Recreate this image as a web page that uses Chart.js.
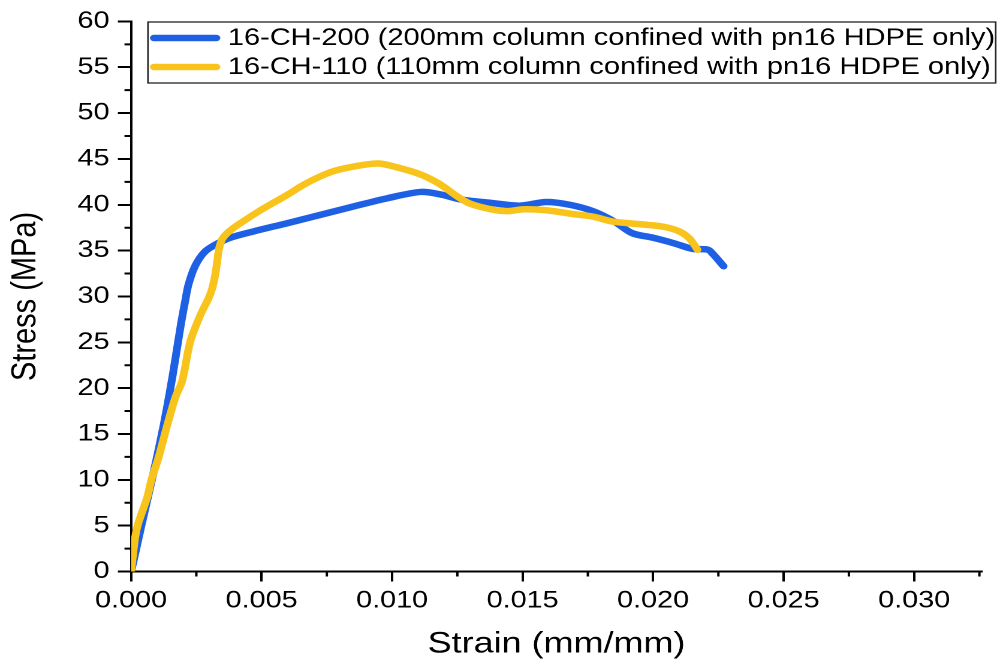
<!DOCTYPE html>
<html><head><meta charset="utf-8">
<script src="https://cdn.jsdelivr.net/npm/chart.js@4.4.1/dist/chart.umd.min.js"></script>
<style>
html,body{margin:0;padding:0;background:#fff;overflow:hidden;width:1000px;height:662px}
#wrap{position:absolute;left:0;top:0;width:834px;height:662px;transform:scaleX(1.19904);transform-origin:0 0}
canvas{display:block}
</style></head><body>
<div id="wrap"><canvas id="c" width="834" height="662"></canvas></div>
<script>
const seriesLabels = [
  '16-CH-200 (200mm column confined with pn16 HDPE only)',
  '16-CH-110 (110mm column confined with pn16 HDPE only)'
];
const seriesColors = ['rgb(30,96,228)', 'rgb(248,196,28)'];

const blueStrain = [0, 0.0001, 0.00042, 0.0008, 0.00125, 0.0016, 0.0019, 0.00208, 0.0022, 0.00245, 0.0028, 0.0032, 0.0038, 0.0047, 0.006, 0.00725, 0.0085, 0.0098, 0.0111, 0.0119, 0.0126, 0.0138, 0.0149, 0.0159, 0.0168, 0.0177, 0.0185, 0.0192, 0.02, 0.0208, 0.0215, 0.0221, 0.0223, 0.0227];
const blueStress = [0, 1.2, 5.3, 10.0, 16.0, 21.5, 26.8, 29.6, 31.3, 33.3, 34.8, 35.6, 36.4, 37.1, 38.0, 38.9, 39.8, 40.7, 41.4, 41.1, 40.6, 40.2, 39.9, 40.3, 40.0, 39.3, 38.2, 36.9, 36.4, 35.8, 35.2, 35.1, 34.6, 33.3];

const yellowStrain = [0, 0.00016, 0.00028, 0.00062, 0.00078, 0.00105, 0.00139, 0.0017, 0.00196, 0.00227, 0.00266, 0.00297, 0.0031, 0.00322, 0.0033, 0.00337, 0.0035, 0.0038, 0.0043, 0.0049, 0.0055, 0.006, 0.0065, 0.0071, 0.0078, 0.0088, 0.0095, 0.0103, 0.0111, 0.0118, 0.0125, 0.013, 0.0138, 0.0144, 0.015, 0.0159, 0.0169, 0.0177, 0.0184, 0.019, 0.0198, 0.0204, 0.021, 0.0214, 0.0217];
const yellowStress = [0, 3.8, 5.3, 8.1, 10.0, 12.4, 16.0, 19.0, 20.8, 25.1, 28.0, 29.8, 30.8, 32.3, 33.8, 35.2, 36.3, 37.2, 38.2, 39.3, 40.3, 41.1, 42.0, 42.9, 43.7, 44.3, 44.5, 44.0, 43.3, 42.3, 40.9, 40.1, 39.5, 39.3, 39.5, 39.4, 39.0, 38.7, 38.2, 38.0, 37.8, 37.6, 37.1, 36.3, 35.1];

const xTickValues = [0, 0.005, 0.010, 0.015, 0.020, 0.025, 0.030];
const yTickValues = [0, 5, 10, 15, 20, 25, 30, 35, 40, 45, 50, 55, 60];
const xMinorTicks = [0.0025, 0.0075, 0.0125, 0.0175, 0.0225, 0.0275, 0.0325];
const yMinorTicks = [2.5, 7.5, 12.5, 17.5, 22.5, 27.5, 32.5, 37.5, 42.5, 47.5, 52.5, 57.5];

const toPts = (xs, ys) => xs.map((x, i) => ({x: x, y: ys[i]}));
const tickFont = {family: '"Liberation Sans", Arial, sans-serif', size: 24};

const minorTicksPlugin = {
  id: 'minorTicks',
  afterDraw(chart) {
    const {ctx, chartArea} = chart;
    const xs = chart.scales.x, ys = chart.scales.y;
    ctx.save();
    ctx.strokeStyle = '#000';
    ctx.lineWidth = 2;
    ctx.beginPath();
    xMinorTicks.forEach(v => {
      if (v > xs.max) return;
      const px = xs.getPixelForValue(v);
      ctx.moveTo(px, chartArea.bottom);
      ctx.lineTo(px, chartArea.bottom + 5);
    });
    yMinorTicks.forEach(v => {
      const py = ys.getPixelForValue(v);
      ctx.moveTo(chartArea.left, py);
      ctx.lineTo(chartArea.left - 5.5, py);
    });
    ctx.stroke();
    ctx.restore();
  }
};

const legendBoxPlugin = {
  id: 'legendBox',
  afterDraw(chart) {
    const ctx = chart.ctx;
    ctx.save();
    ctx.lineWidth = 1.3;
    ctx.strokeStyle = '#222';
    ctx.strokeRect(123.4, 22, 707, 61);
    chart.data.datasets.forEach((ds, i) => {
      const y = 38 + i * 29;
      ctx.beginPath();
      ctx.moveTo(128.3, y);
      ctx.lineTo(180.5, y);
      ctx.strokeStyle = ds.borderColor;
      ctx.lineWidth = 6.5;
      ctx.lineCap = 'round';
      ctx.stroke();
      ctx.fillStyle = '#000';
      ctx.font = '24.2px "Liberation Sans", Arial, sans-serif';
      ctx.textBaseline = 'middle';
      ctx.textAlign = 'left';
      ctx.fillText(ds.label, 190, y + 0.5);
    });
    ctx.restore();
  }
};

new Chart(document.getElementById('c'), {
  type: 'line',
  data: {
    datasets: [
      {label: seriesLabels[0], data: toPts(blueStrain, blueStress), borderColor: seriesColors[0], backgroundColor: seriesColors[0], borderWidth: 6.5, order: 2, fill: false},
      {label: seriesLabels[1], data: toPts(yellowStrain, yellowStress), borderColor: seriesColors[1], backgroundColor: seriesColors[1], borderWidth: 6.5, order: 1, fill: false}
    ]
  },
  options: {
    responsive: false,
    devicePixelRatio: 2,
    animation: false,
    layout: {padding: {top: 19.5, right: 15, bottom: 0, left: 0}},
    plugins: {legend: {display: false}, tooltip: {enabled: false}},
    elements: {
      point: {radius: 0},
      line: {tension: 0.3, borderCapStyle: 'round', borderJoinStyle: 'round'}
    },
    scales: {
      x: {
        type: 'linear', min: 0, max: 0.0326,
        afterBuildTicks: s => { s.ticks = xTickValues.map(v => ({value: v})); },
        afterFit: s => { s.height = 90.5; },
        grid: {drawOnChartArea: false, drawTicks: true, tickLength: 10, tickWidth: 2, tickColor: '#000'},
        border: {display: true, color: '#000', width: 2},
        ticks: {color: '#000', font: tickFont, padding: 5, maxRotation: 0, autoSkip: false, callback: v => Number(v).toFixed(3)},
        title: {display: true, text: 'Strain (mm/mm)', color: '#000', font: {family: '"Liberation Sans", Arial, sans-serif', size: 30}, padding: {top: 2, bottom: 0}}
      },
      y: {
        type: 'linear', min: 0, max: 60,
        afterBuildTicks: s => { s.ticks = yTickValues.map(v => ({value: v})); },
        afterFit: s => { s.width = 109.3; },
        grid: {drawOnChartArea: false, drawTicks: true, tickLength: 11, tickWidth: 2, tickColor: '#000'},
        border: {display: true, color: '#000', width: 2},
        ticks: {color: '#000', font: tickFont, padding: 7, autoSkip: false, callback: v => String(v)},
        title: {display: true, text: 'Stress (MPa)', color: '#000', font: {family: '"Liberation Sans", Arial, sans-serif', size: 29}, padding: {top: 4, bottom: 0}}
      }
    }
  },
  plugins: [minorTicksPlugin, legendBoxPlugin]
});
</script>
</body></html>
